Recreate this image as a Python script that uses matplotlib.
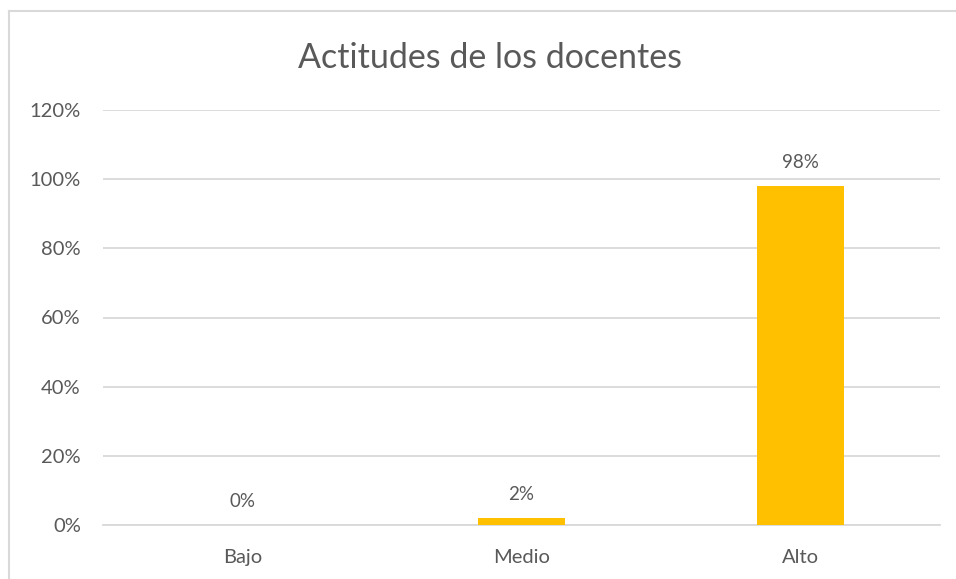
import matplotlib.pyplot as plt
from matplotlib.lines import Line2D
from matplotlib.ticker import PercentFormatter

# --- dati ---
categorias = ["Bajo", "Medio", "Alto"]
valores = [0.0, 0.02, 0.98]
etiquetas = ["0%", "2%", "98%"]
titulo = "Actitudes de los docentes"

plt.rcParams['font.family'] = ['Lato', 'DejaVu Sans']
gris = '#595959'

fig = plt.figure(figsize=(9.56, 5.79), dpi=100)
ax = fig.add_axes([103 / 956, 1 - 525 / 579, (940 - 103) / 956, (525 - 110) / 579])

x = range(len(categorias))
bars = ax.bar(x, valores, width=0.31, color='#FFC000', zorder=3)

for b, lab in zip(bars, etiquetas):
    ax.annotate(lab, (b.get_x() + b.get_width() / 2, b.get_height()),
                xytext=(0, 11), textcoords='offset points',
                ha='center', va='bottom', fontsize=13.5, color=gris)

ax.set_xlim(-0.5, 2.5)
ax.set_ylim(0, 1.2)
ax.set_yticks([0, 0.2, 0.4, 0.6, 0.8, 1.0, 1.2])
ax.yaxis.set_major_formatter(PercentFormatter(1.0, decimals=0))
ax.set_xticks(list(x))
ax.set_xticklabels(categorias)

ax.grid(axis='y', color='#D9D9D9', linewidth=1.3, zorder=0)
ax.tick_params(axis='both', length=0, labelsize=14.5, labelcolor=gris)
ax.tick_params(axis='y', pad=16)
ax.tick_params(axis='x', pad=17.5)
for s in ['top', 'right', 'left']:
    ax.spines[s].set_visible(False)
ax.spines['bottom'].set_color('#D9D9D9')
ax.spines['bottom'].set_linewidth(1.3)

fig.text(490 / 956, 1 - 58 / 579, titulo, ha='center', va='center',
         fontsize=24.5, color=gris)

# bordo del grafico (solo sinistra e alto visibili)
fig.add_artist(Line2D([9 / 956, 9 / 956], [0, 1 - 11 / 579], transform=fig.transFigure,
                      color='#D9D9D9', linewidth=1.5))
fig.add_artist(Line2D([9 / 956, 1], [1 - 11 / 579, 1 - 11 / 579], transform=fig.transFigure,
                      color='#D9D9D9', linewidth=1.5))

fig.savefig('out.png', dpi=100)
